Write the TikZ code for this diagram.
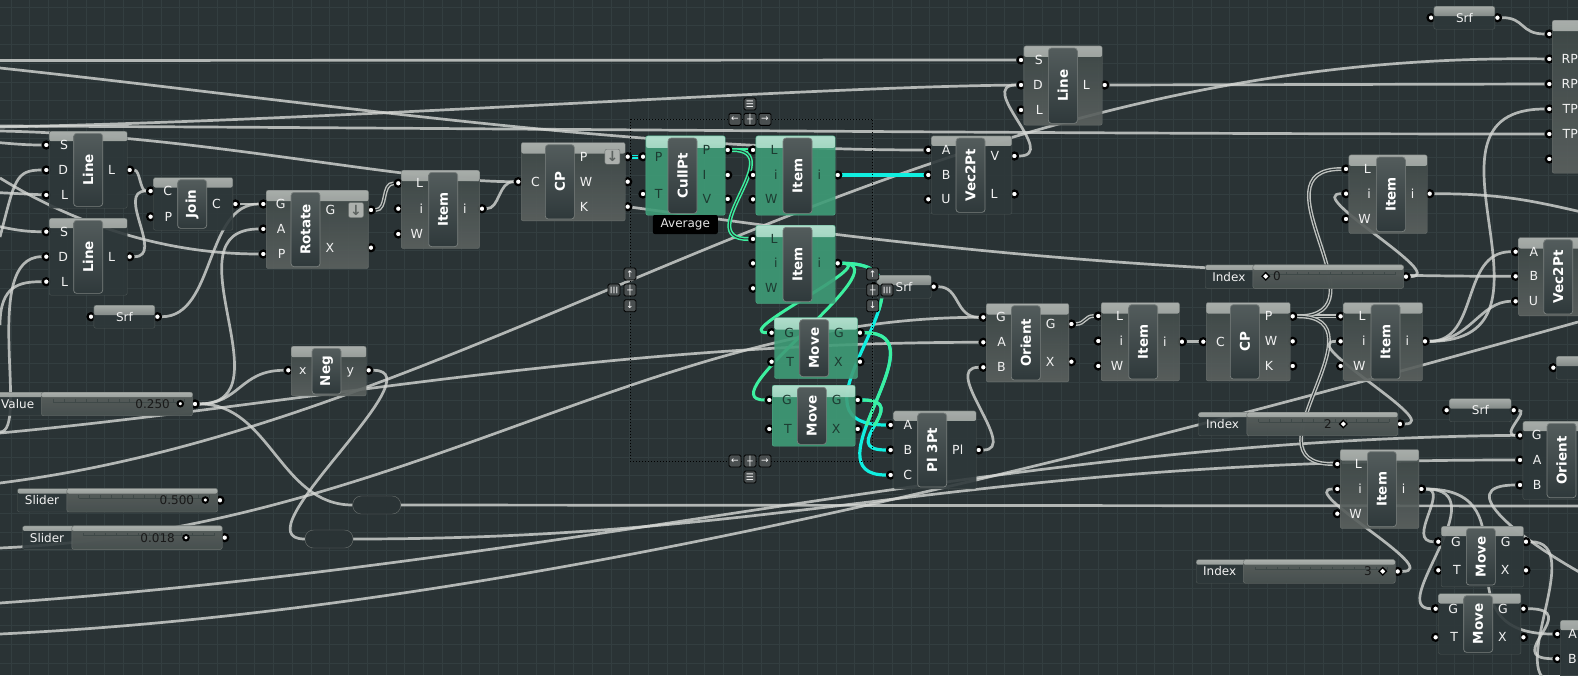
\documentclass[tikz,border=0pt]{standalone}
\usepackage{fontspec}
\setmainfont{DejaVu Sans}
\usepackage{graphicx}
\usetikzlibrary{calc,positioning,shapes.geometric,backgrounds}
\pgfdeclarelayer{portlayer}
\pgfsetlayers{background,portlayer,main}
\definecolor{canvas}{HTML}{2A3335}
\definecolor{gridcol}{HTML}{333E40}
\definecolor{wirecol}{HTML}{D6D8D5}
\definecolor{wirelistcol}{HTML}{BFC2BF}
\definecolor{wiregreen}{HTML}{3DF0A0}
\definecolor{wirecyan}{HTML}{10EFE0}
\definecolor{greenink}{HTML}{1D3B31}
\definecolor{greyA}{HTML}{3F4948}
\definecolor{greyB}{HTML}{5C6260}
\definecolor{greyline}{HTML}{6B716F}
\definecolor{darkbody}{HTML}{2E383A}
\definecolor{darkline}{HTML}{4D5655}
\definecolor{bandA}{HTML}{B4B9B5}
\definecolor{bandB}{HTML}{596160}
\definecolor{greenbody}{HTML}{3F9C77}
\definecolor{greenA}{HTML}{BEE6D6}
\definecolor{greenB}{HTML}{50AE8A}
\definecolor{capA}{HTML}{535C5C}
\definecolor{capB}{HTML}{333D3F}
\definecolor{capC}{HTML}{2F393B}
\definecolor{capline}{HTML}{7A807E}
\definecolor{btnfill}{HTML}{4A4F50}
\tikzset{
  wire/.style={draw=wirecol, line width=2.7pt, opacity=.8},
  wirelist/.style={draw=wirelistcol, line width=1.4pt, double=canvas, double distance=1pt},
  greenwire/.style={draw=wiregreen, line width=3pt},
  cyanwire/.style={draw=wirecyan, line width=3.2pt},
  greenlist/.style={draw=wiregreen, line width=1.5pt, double=canvas, double distance=1pt},
  cyanlist/.style={draw=wirecyan, line width=1.5pt, double=canvas, double distance=1pt},
  comp/.style={rectangle, rounded corners=2pt, anchor=north west, inner sep=0pt, fill opacity=.9},
  compgrey/.style={comp, draw=greyline, top color=greyA, bottom color=greyB,
    path picture={\shade[top color=bandA, bottom color=bandB] (path picture bounding box.north west) rectangle ([yshift=-11pt]path picture bounding box.north east);}},
  compdark/.style={comp, draw=darkline, fill=darkbody,
    path picture={\shade[top color=bandA, bottom color=bandB] (path picture bounding box.north west) rectangle ([yshift=-10pt]path picture bounding box.north east);}},
  compgreen/.style={comp, draw=greenB, fill=greenbody,
    path picture={\shade[top color=greenA, bottom color=greenB] (path picture bounding box.north west) rectangle ([yshift=-12pt]path picture bounding box.north east);}},
  slidertab/.style={comp, draw=darkline, fill=darkbody,
    path picture={\shade[top color=bandA, bottom color=bandB] (path picture bounding box.north west) rectangle ([yshift=-5pt]path picture bounding box.north east);}},
  sliderbody/.style={comp, draw=greyline, top color=greyB, bottom color=greyA!60!greyB,
    path picture={\shade[top color=bandA, bottom color=bandB] (path picture bounding box.north west) rectangle ([yshift=-5pt]path picture bounding box.north east);}},
  capsule/.style={rectangle, rounded corners=3pt, anchor=north west, inner sep=0pt, draw=capline, line width=.7pt,
    top color=capA, middle color=capB, bottom color=capC, text=white, font=\bfseries\fontsize{13.5}{14}\selectfont},
  portnode/.style={circle, fill=white, draw=black, line width=2.2pt, minimum size=7pt, inner sep=0pt},
  plabel/.style={inner sep=0pt, text=white!90!gray, text height=9pt, text depth=0pt, font=\fontsize{12.5}{13}\selectfont},
  compgreylab/.style={plabel},
  compdarklab/.style={plabel},
  compgreenlab/.style={plabel, text=greenink},
  tablab/.style={inner sep=0pt, text=white!90!gray, text height=9pt, text depth=0pt, font=\fontsize{12}{12}\selectfont},
  slidertick/.style={draw=greyA, line width=.5pt},
  sval/.style={inner sep=0pt, anchor=east, text=black!90, text height=9pt, text depth=0pt, font=\fontsize{12}{12}\selectfont},
  griproll/.style={circle, fill=white, draw=black, line width=2pt, minimum size=5.5pt, inner sep=0pt},
  gripdia/.style={diamond, fill=white, draw=black, line width=1.3pt, minimum size=8pt, inner sep=0pt},
  pill/.style={rectangle, rounded corners=8.5pt, draw=greyline, fill=canvas, minimum width=48pt, minimum height=18pt, inner sep=0pt},
  btn/.style={rectangle, rounded corners=1.5pt, draw=black, line width=.9pt, fill=btnfill, text=white, minimum size=12pt, inner sep=0pt, font=\fontsize{9}{9}\selectfont},
  toggle/.style={rectangle, rounded corners=2pt, fill=bandA!85!gray, draw=greyline, text=greyB, minimum size=15pt, inner sep=0pt, font=\bfseries\fontsize{14}{14}\selectfont},
  tag/.style={rectangle, rounded corners=2pt, fill=black, text=white!80!gray, inner sep=0pt, minimum width=65pt, minimum height=19pt, font=\fontsize{12}{12}\selectfont},
}
\newcommand{\gcomp}[9]{
  \node[#2, minimum width=#4pt, minimum height=#5pt] (#1) at (#3) {};
  \path (#3) ++(0,2) coordinate (#1top);
  \node[capsule, minimum width=29pt, minimum height={#5pt-4pt}] (#1c) at (#6,0 |- #1top) {\rotatebox{90}{#7}};
  \foreach \py/\pl [count=\pn] in {#8}{
    \begin{pgfonlayer}{portlayer}
      \node[portnode] (#1I\pn) at ([xshift=-2.7pt]#1.west |- 0,\py) {};
    \end{pgfonlayer}
    \node[#2lab, anchor=east] (#1L\pn) at ([xshift=-5pt]#1c.west |- 0,\py) {\pl};
  }
  \foreach \py/\pl [count=\pn] in {#9}{
    \begin{pgfonlayer}{portlayer}
      \node[portnode] (#1O\pn) at ([xshift=2.3pt]#1.east |- 0,\py) {};
    \end{pgfonlayer}
    \node[#2lab, anchor=west] (#1R\pn) at ([xshift=5pt]#1c.east |- 0,\py) {\pl};
  }
}
\newcommand{\gparam}[5]{
  \node[compdark, minimum width=#4pt, minimum height=23pt] (#1) at (#2,#3) {};
  \node[tablab] (#1t) at (#1.center) {#5};
  \begin{pgfonlayer}{portlayer}
    \node[portnode] (#1I) at ([xshift=-2.7pt]#1.west) {};
    \node[portnode] (#1O) at ([xshift=2.3pt]#1.east) {};
  \end{pgfonlayer}
}
\newcommand{\gslider}[6]{
  \node[slidertab, minimum width=#4pt, minimum height=23.5pt] (#1) at (#2,#3) {};
  \node[sliderbody, minimum width={(#2+#4-#5)*1pt}, minimum height=23.5pt] (#1b) at (#5,#3) {};
  \node[tablab] (#1t) at ($(#1.west)!.5!(#1b.west)$) {#6};
  \draw[slidertick] (#5+12,#3+10) -- (#2+#4-8,#3+10);
  \foreach \tk in {0,...,12}{
    \draw[slidertick] ($(#5+12,#3+10)!\tk/12!(#2+#4-8,#3+10)$) -- ++(0,-3);
  }
  \begin{pgfonlayer}{portlayer}
    \node[portnode] (#1O) at ([xshift=2.3pt]#1.east) {};
  \end{pgfonlayer}
}
\newcommand{\tonewire}[5]{
  \draw[cyanwire] (#1) .. controls (#2) and (#3) .. (#4);
  \begin{scope}
    \clip (700,#5-300) rectangle (1000,#5);
    \draw[greenwire] (#1) .. controls (#2) and (#3) .. (#4);
  \end{scope}
}
\begin{document}
\begin{tikzpicture}[x=1pt, y=-1pt]
\useasboundingbox (0,0) rectangle (1578,675);

\coordinate (seltl) at (630,119.3);
\coordinate (selbr) at (872.7,461);
\draw[black, line width=.5pt, dash pattern=on 1pt off 2pt] (seltl) rectangle (selbr);

\gcomp{linea}{compdark}{49,131}{78}{77}{73.3}{Line}{145/S,170/D,195/L}{170/L}
\gcomp{lineb}{compdark}{49,218}{78}{77}{73.3}{Line}{231.7/S,256.7/D,281.7/L}{256.7/L}
\gcomp{join}{compdark}{153.3,177.3}{79.4}{52.7}{177.3}{Join}{191/C,216.7/P}{204/C}
\gcomp{rot}{compgrey}{266,190}{102.3}{78.3}{290.7}{Rotate}{204/G,229/A,254/P}{210/G,247.7/X}
\gcomp{itma}{compgrey}{401,170}{78.3}{78.3}{428.3}{Item}{183.3/L,208.7/i,234/W}{208.7/i}
\gcomp{cpa}{compgrey}{521,142.3}{104}{78.4}{545}{CP}{181.7/C}{156.7/P,181.7/W,206.7/K}
\gcomp{cull}{compgreen}{645.7,135.7}{79.3}{79.3}{667.7}{CullPt}{156.7/P,194/T}{150/P,175/I,199/V}
\gcomp{itmb}{compgreen}{755.7,135.7}{79.3}{79.3}{782.7}{Item}{150/L,175/i,199.3/W}{175/i}
\gcomp{itmc}{compgreen}{755.7,225}{79.3}{78.3}{782.7}{Item}{239/L,263.3/i,288.3/W}{263.3/i}
\gcomp{vec}{compdark}{931,135.7}{80.7}{78.3}{955.7}{Vec2Pt}{150/A,175/B,199.3/U}{156/V,194/L}
\gcomp{linet}{compgrey}{1023.7,45.7}{78.3}{79.3}{1048}{Line}{60/S,85/D,110/L}{85/L}
\gcomp{movea}{compgreen}{774.3,317.3}{83}{61}{799.3}{Move}{332.7/G,361.7/T}{332.7/G,361.7/X}
\gcomp{moveb}{compgreen}{772,385}{83}{61}{797}{Move}{400/G,429/T}{400/G,429/X}
\gcomp{pla}{compdark}{893.3,410.7}{82.7}{78}{917.3}{Pl 3Pt}{425/A,450/B,475/C}{450/Pl}
\gcomp{orient}{compgrey}{986,303.3}{82.7}{78.4}{1011}{Orient}{317.3/G,342.3/A,367.3/B}{324/G,361.7/X}
\gcomp{itmd}{compgrey}{1101,302.3}{78.3}{78.4}{1128.3}{Item}{316/L,341/i,366/W}{341.7/i}
\gcomp{cpb}{compgrey}{1206,302.3}{84}{78.4}{1230}{CP}{341.7/C}{316.3/P,341.3/W,366/K}
\gcomp{itme}{compgrey}{1343.3,302.3}{79}{78.4}{1370.7}{Item}{316.3/L,341.3/i,366/W}{341.3/i}
\gcomp{itmf}{compgrey}{1348.7,154.7}{78.3}{78.6}{1376}{Item}{169/L,193.7/i,219/W}{193.7/i}
\gcomp{vecb}{compgrey}{1518.3,237.3}{80}{78.4}{1543.3}{Vec2Pt}{251.7/A,276.3/B,301.3/U}{}
\gcomp{big}{compgrey}{1552,20}{90}{153}{1583}{}{34/{},59/RP,84/RP,109/TP,134/TP,159/{}}{}
\gcomp{orientb}{compdark}{1522.7,421}{80}{78.3}{1546.7}{Orient}{435.3/G,460/A,485/B}{}
\gcomp{itmg}{compgrey}{1340,449.3}{78.7}{79}{1367}{Item}{464/L,489/i,513.7/W}{489/i}
\gcomp{movec}{compdark}{1441,526}{82.3}{60.7}{1466}{Move}{541.7/G,570.3/T}{541.7/G,570.3/X}
\gcomp{moved}{compdark}{1438.3,593.3}{82.4}{60.7}{1463.3}{Move}{608.7/G,637.3/T}{608.7/G,637.3/X}
\gcomp{plb}{compdark}{1560,620}{82}{78}{1582}{}{634/A,658.7/B}{}
\gcomp{neg}{compgrey}{291,346}{75}{49.7}{311.7}{Neg}{370.3/x}{370.3/y}

\gparam{srfa}{93.7}{305}{61}{Srf}
\gparam{srfb}{876.7}{275}{54.3}{Srf}
\gparam{srfc}{1433.7}{6}{61}{Srf}
\gparam{srfd}{1449.3}{398.5}{61.7}{Srf}
\node[compdark, minimum width=40pt, minimum height=23pt] (stub) at (1556,356) {};
\begin{pgfonlayer}{portlayer}
\node[portnode] (stubI) at ([xshift=-2.7pt]stub.west) {};
\end{pgfonlayer}

\gslider{value}{-6}{392}{198.3}{41.3}{Value}
\gslider{slida}{17.3}{488.3}{200}{66.7}{Slider}
\gslider{slidb}{22.3}{525.7}{199.7}{71.7}{Slider}
\gslider{idxa}{1205}{264.7}{198.3}{1252.7}{Index}
\gslider{idxb}{1198.3}{412}{199}{1246.7}{Index}
\gslider{idxc}{1196}{559.5}{199}{1243.3}{Index}

\node[sval] (valuev) at (170,403.7) {0.250};
\node[griproll] (valueg) at (180.3,403.7) {};
\node[sval] (slidav) at (194.3,500) {0.500};
\node[griproll] (slidag) at (205.3,500) {};
\node[sval] (slidbv) at (175,537.7) {0.018};
\node[griproll] (slidbg) at (186,537.7) {};
\node[gripdia] (idxag) at (1265.7,276.3) {};
\node[sval] (idxav) at (1281,276.3) {0};
\node[gripdia] (idxbg) at (1343.3,424) {};
\node[sval] (idxbv) at (1332,424) {2};
\node[gripdia] (idxcg) at (1382.7,571.3) {};
\node[sval] (idxcv) at (1372,571.3) {3};

\node[pill] (pilla) at (376.7,505) {};
\node[pill] (pillb) at (329,539) {};

\node[toggle] (togcp) at (612.4,156.7) {↓};
\node[toggle] (togrot) at (356,210) {↓};
\node[tag] (avg) at (685.3,224.5) {Average};

\node[btn] (btl) at (735,119.3) {←};
\node[btn] (btc) at (750,119.3) {┼};
\node[btn] (btr) at (765,119.3) {→};
\node[btn] (btm) at (750,104) {☰};
\node[btn] (bbl) at (735,461) {←};
\node[btn] (bbc) at (750,461) {┼};
\node[btn] (bbr) at (765,461) {→};
\node[btn] (bbm) at (750,477) {☰};
\node[btn] (ltu) at (630,274) {↑};
\node[btn] (ltc) at (630,290) {┼};
\node[btn] (ltd) at (630,305.7) {↓};
\node[btn] (ltm) at (614,290) {\rotatebox{90}{☰}};
\node[btn] (rtu) at (872.7,274) {↑};
\node[btn] (rtc) at (872.7,290) {┼};
\node[btn] (rtd) at (872.7,305.7) {↓};
\node[btn] (rtm) at (887,290) {\rotatebox{90}{☰}};

\coordinate (wa) at (0,60.5);
\coordinate (wb) at (0,68);
\coordinate (wc) at (0,127);
\coordinate (wd) at (0,126);
\coordinate (we) at (0,131);
\coordinate (wf) at (0,142.7);
\coordinate (wg) at (0,237);
\coordinate (wh) at (0,192.7);
\coordinate (wi) at (0,178);
\coordinate (wj) at (0,226.7);
\coordinate (wk) at (0,432);
\coordinate (wl) at (0,325);
\coordinate (wm) at (1590,506);
\coordinate (wn) at (0,603);
\coordinate (wo) at (0,634);
\coordinate (wp) at (1578,322);
\coordinate (wq) at (0,433);
\coordinate (wr) at (0,483);
\coordinate (ws) at (0,548);
\coordinate (wt) at (1590,214);
\coordinate (wu) at (1590,578);
\coordinate (plbc) at (1557.3,683);

\begin{pgfonlayer}{background}
\fill[canvas] (0,0) rectangle (1578,675);
\foreach \gx in {11,29.75,...,1578}{\draw[gridcol, line width=.7pt] (\gx,0) -- (\gx,675);}
\foreach \gy in {7,25.75,...,675}{\draw[gridcol, line width=.7pt] (0,\gy) -- (1578,\gy);}

\draw[wire] (wa) -- (linetI1);
\draw[wire] (wb) .. controls (300,100) and (620,150) .. (vecI1);
\draw[wire] (wc) .. controls (350,120) and (800,87) .. (linetI2);
\draw[wire] (wd) .. controls (500,128) and (1000,134) .. (bigI5);
\draw[wire] (we) .. controls (200,135) and (400,181.7) .. (cpaI1);
\draw[wire] (wf) .. controls (20,144.5) and (30,145) .. (lineaI1);
\draw[wire] (wg) .. controls (15,180) and (15,170) .. (lineaI2);
\draw[wire] (wh) -- (lineaI3);
\draw[wire] (wi) .. controls (60,215) and (150,254) .. (rotI3);
\draw[wire] (wj) .. controls (20,231) and (30,231.7) .. (linebI1);
\draw[wire] (wk) .. controls (30,432) and (-20,256.7) .. (linebI2);
\draw[wire] (wl) .. controls (0,285) and (20,281.7) .. (linebI3);
\draw[wire] (lineaO1) .. controls (140,170) and (140,191) .. (joinI1);
\draw[wire] (linebO1) .. controls (165,256.7) and (115,191) .. (joinI1);
\draw[wire] (joinO1) -- (rotI1);
\draw[wire] (srfaO) .. controls (215,316.7) and (205,204) .. (rotI1);
\draw[wirelist] (rotO1) .. controls (388,210) and (381,183.3) .. (itmaI1);
\draw[wire] (itmaO1) .. controls (500,208.7) and (498,181.7) .. (cpaI1);
\draw[wire] (valueO) .. controls (290,403.7) and (165,229) .. (rotI2);
\draw[wire] (valueO) .. controls (240,403.7) and (240,370.3) .. (negI1);
\draw[wire] (valueO) .. controls (270,403.7) and (280,505) .. (pilla.west);
\draw[wire] (negO1) .. controls (440,370.3) and (235,539) .. (pillb.west);
\draw[wire] (pilla.east) -- (wm);
\draw[wire] (pillb.east) .. controls (800,539) and (950,460) .. (orientbI2);
\draw[wire] (wn) .. controls (600,560) and (1000,440) .. (orientbI1);
\draw[wire] (wo) .. controls (500,610) and (1050,470) .. (wp);
\draw[wire] (wq) .. controls (300,405) and (600,342.3) .. (orientI2);
\draw[wire] (wr) .. controls (500,420) and (900,50) .. (bigI2);
\draw[wire] (ws) .. controls (400,530) and (650,317.3) .. (orientI1);
\draw[wire] (cpaO3) .. controls (800,230) and (1100,276.3) .. (vecbI2);
\draw[wire] (vecO1) .. controls (1060,156) and (975,85) .. (linetI2);
\draw[wire] (linetO1) -- (bigI3);
\draw[wire] (srfcO) .. controls (1525,17.5) and (1520,34) .. (bigI1);
\draw[wire] (srfbO) .. controls (960,286.7) and (955,317.3) .. (orientI1);
\draw[wire] (plaO1) .. controls (1020,450) and (940,367.3) .. (orientI3);
\draw[wirelist] (orientO1) .. controls (1085,324) and (1085,316) .. (itmdI1);
\draw[wire] (itmdO1) -- (cpbI1);
\draw[wirelist] (cpbO1) -- (itmeI1);
\draw[wirelist] (cpbO1) .. controls (1390,316.3) and (1250,169) .. (itmfI1);
\draw[wirelist] (cpbO1) .. controls (1390,316.3) and (1240,464) .. (itmgI1);
\draw[wire] (idxaO) .. controls (1450,276.3) and (1302,193.7) .. (itmfI2);
\draw[wire] (itmfO1) .. controls (1500,193.7) and (1530,200) .. (wt);
\draw[wire] (itmeO1) .. controls (1480,341.3) and (1460,251.7) .. (vecbI1);
\draw[wire] (itmeO1) .. controls (1470,341.3) and (1480,301.3) .. (vecbI3);
\draw[wire] (itmeO1) .. controls (1580,341.3) and (1400,109) .. (bigI4);
\draw[wire] (idxbO) .. controls (1445,424) and (1295,341.3) .. (itmeI2);
\draw[wire] (idxcO) .. controls (1445,571.3) and (1295,489) .. (itmgI2);
\draw[wire] (itmgO1) .. controls (1450,489) and (1405,541.7) .. (movecI1);
\draw[wire] (itmgO1) .. controls (1500,489) and (1385,608.7) .. (movedI1);
\draw[wire] (itmgO1) .. controls (1540,489) and (1430,634) .. (plbI1);
\draw[wire] (movecO1) .. controls (1590,541.7) and (1500,683) .. (plbc);
\draw[wire] (movedO1) .. controls (1585,608.7) and (1500,658.7) .. (plbI2);
\draw[wire] (srfdO) .. controls (1530,410) and (1500,435.3) .. (orientbI1);
\draw[wire] (wu) .. controls (1520,540) and (1450,485) .. (orientbI3);

\draw[cyanlist] (cpaO1) -- (cullI1);
\draw[greenlist] (cullO1) -- (itmbI1);
\draw[greenlist] (cullO1) .. controls (790,150) and (690,239) .. (itmcI1);
\draw[cyanwire] (itmbO1) -- (vecI2);
\draw[greenwire] (itmcO1) .. controls (880,263.3) and (730,332.7) .. (moveaI1);
\draw[greenwire] (itmcO1) .. controls (905,263.3) and (705,400) .. (movebI1);
\tonewire{itmcO1}{960,263.3}{770,425}{plaI1}{310}
\tonewire{moveaO1}{945,332.7}{805,475}{plaI3}{425}
\tonewire{movebO1}{915,400}{835,450}{plaI2}{425}
\end{pgfonlayer}
\end{tikzpicture}
\end{document}
